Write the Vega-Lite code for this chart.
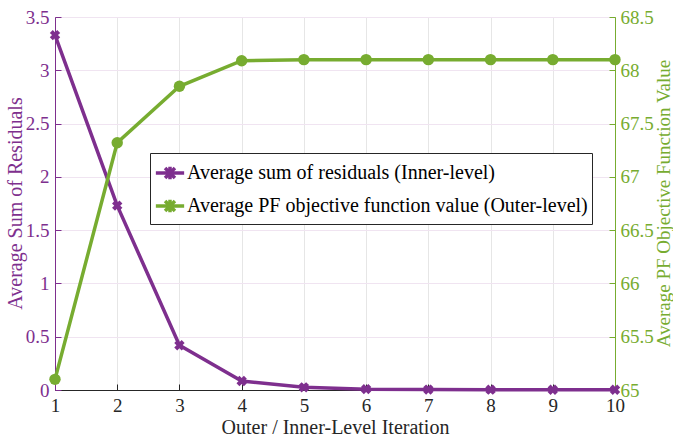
{
  "$schema": "https://vega.github.io/schema/vega-lite/v6.json",
  "width": 560,
  "height": 373,
  "autosize": {"type": "none"},
  "padding": {"left": 55, "top": 17, "right": 58, "bottom": 49},
  "background": "white",
  "config": {
    "font": "Liberation Serif",
    "view": {"stroke": "#262626", "strokeWidth": 1},
    "axis": {"labelFontSize": 19, "titleFontSize": 20, "titleFontWeight": "normal", "tickSize": -6, "labelFlush": false}
  },
  "data": {"values": [
    {"iter": 1, "residual": 3.33, "pf": 65.10},
    {"iter": 2, "residual": 1.73, "pf": 67.32},
    {"iter": 3, "residual": 0.42, "pf": 67.85},
    {"iter": 4, "residual": 0.085, "pf": 68.09},
    {"iter": 5, "residual": 0.025, "pf": 68.10},
    {"iter": 6, "residual": 0.008, "pf": 68.10},
    {"iter": 7, "residual": 0.004, "pf": 68.10},
    {"iter": 8, "residual": 0.003, "pf": 68.10},
    {"iter": 9, "residual": 0.002, "pf": 68.10},
    {"iter": 10, "residual": 0.002, "pf": 68.10}
  ]},
  "encoding": {
    "x": {"field": "iter", "type": "quantitative",
      "scale": {"domain": [1, 10], "nice": false, "zero": false},
      "axis": {"title": "Outer / Inner-Level Iteration", "values": [1,2,3,4,5,6,7,8,9,10], "format": "d",
        "domainColor": "#262626", "tickColor": "#262626", "labelColor": "#262626", "titleColor": "#262626",
        "gridColor": "#e6e6e6", "titlePadding": 2, "labelPadding": 12}}
  },
  "layer": [
    {
      "encoding": {
        "y": {"field": "residual", "type": "quantitative",
          "scale": {"domain": [0, 3.5], "nice": false},
          "axis": {"title": "Average Sum of Residuals", "orient": "left", "values": [0,0.5,1,1.5,2,2.5,3,3.5], "format": "~g",
            "domainColor": "#7E2F8E", "tickColor": "#7E2F8E", "labelColor": "#7E2F8E", "titleColor": "#7E2F8E",
            "gridColor": "#f0e4f1", "labelPadding": 12, "titleX": -40, "titleY": 186, "titleAlign": "center", "titleBaseline": "middle"}}
      },
      "layer": [
        {"mark": {"type": "line", "strokeWidth": 3.5},
         "encoding": {"color": {"datum": "Average sum of residuals (Inner-level)",
           "scale": {"domain": ["Average sum of residuals (Inner-level)", "Average PF objective function value (Outer-level)"], "range": ["#7E2F8E", "#77AC30"]},
           "legend": {"title": null, "orient": "none", "legendX": 95, "legendY": 136,
             "strokeColor": "#262626", "fillColor": "white", "padding": 4,
             "labelFontSize": 20, "labelLimit": 600, "labelColor": "#000000", "labelOffset": 1, "rowPadding": 3,
             "symbolType": "M-1,0L1,0M-0.35,-0.35L0.35,0.35M-0.35,0.35L0.35,-0.35M0,-0.45L0,0.45",
             "symbolSize": 800, "symbolStrokeWidth": 3.5}}}},
        {"mark": {"type": "point", "shape": "cross", "angle": 45, "filled": true, "size": 110, "color": "#7E2F8E", "opacity": 1}}
      ]
    },
    {
      "encoding": {
        "y": {"field": "pf", "type": "quantitative",
          "scale": {"domain": [65, 68.5], "nice": false, "zero": false},
          "axis": {"title": "Average PF Objective Function Value", "orient": "right", "titleAngle": 270, "titleFontSize": 19, "values": [65,65.5,66,66.5,67,67.5,68,68.5], "format": "~g",
            "domainColor": "#77AC30", "tickColor": "#77AC30", "labelColor": "#77AC30", "titleColor": "#77AC30",
            "grid": false, "labelPadding": 11, "titleX": 48, "titleY": 186, "titleAlign": "center", "titleBaseline": "middle"}}
      },
      "layer": [
        {"mark": {"type": "line", "strokeWidth": 3.5},
         "encoding": {"color": {"datum": "Average PF objective function value (Outer-level)"}}},
        {"mark": {"type": "point", "shape": "circle", "filled": true, "size": 130, "color": "#77AC30", "opacity": 1}}
      ]
    }
  ],
  "resolve": {"scale": {"y": "independent"}}
}
